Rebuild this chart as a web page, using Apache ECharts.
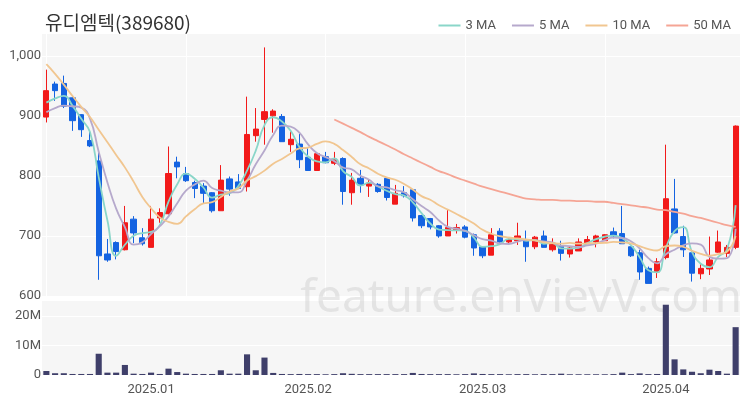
<!DOCTYPE html>
<html>
<head>
<meta charset="utf-8">
<script src="https://cdn.jsdelivr.net/npm/echarts@6/dist/echarts.min.js"></script>
<style>html,body{margin:0;padding:0;background:#fff}#c{width:750px;height:400px}</style>
</head>
<body>
<div id="c"></div>
<script>
const dates = [
'2024-12-12','2024-12-13','2024-12-16','2024-12-17','2024-12-18','2024-12-19','2024-12-20','2024-12-23','2024-12-24','2024-12-26','2024-12-27','2024-12-30',
'2025-01-02','2025-01-03','2025-01-06','2025-01-07','2025-01-08','2025-01-09','2025-01-10','2025-01-13','2025-01-14','2025-01-15','2025-01-16','2025-01-17','2025-01-20','2025-01-21','2025-01-22','2025-01-23','2025-01-24','2025-01-31',
'2025-02-03','2025-02-04','2025-02-05','2025-02-06','2025-02-07','2025-02-10','2025-02-11','2025-02-12','2025-02-13','2025-02-14','2025-02-17','2025-02-18','2025-02-19','2025-02-20','2025-02-21','2025-02-24','2025-02-25','2025-02-26','2025-02-27','2025-02-28',
'2025-03-03','2025-03-04','2025-03-05','2025-03-06','2025-03-07','2025-03-10','2025-03-11','2025-03-12','2025-03-13','2025-03-14','2025-03-17','2025-03-18','2025-03-19','2025-03-20','2025-03-21','2025-03-24','2025-03-25','2025-03-26','2025-03-27','2025-03-28','2025-03-31',
'2025-04-01','2025-04-02','2025-04-03','2025-04-04','2025-04-07','2025-04-08','2025-04-09','2025-04-10','2025-04-11'
];
const opens = [898,953,954,930,902,859,825,670,689,677,728,697,681,730,737,823,804,789,783,772,742,795,790,782,867,894,900,899,852,853,
831,809,832,821,829,772,796,783,786,796,753,772,777,734,729,717,700,710,715,702,
682,668,708,690,692,694,682,700,677,683,670,675,687,690,692,707,704,682,672,646,640,
664,745,699,672,637,645,673,671,681];
const closes = [942,942,916,892,877,850,667,660,674,722,705,687,728,739,804,815,792,779,771,742,793,778,779,869,878,907,908,857,861,827,
809,837,822,828,774,793,785,788,774,764,771,767,730,717,715,700,714,714,698,680,
667,702,690,694,700,682,698,681,686,671,680,690,694,700,702,700,687,667,640,621,657,
762,705,677,638,646,660,690,681,883];
const lows = [889,925,913,875,865,848,627,657,661,676,688,684,681,722,736,796,790,763,754,739,742,767,778,774,857,852,872,857,840,813,
809,809,821,818,752,752,772,765,772,759,753,764,724,713,711,697,700,704,696,667,
663,668,689,685,685,657,678,681,674,659,664,675,687,681,692,696,687,665,627,621,630,
661,704,665,624,628,635,672,665,678];
const highs = [977,957,967,932,903,875,840,695,691,750,733,713,750,746,849,832,815,792,788,773,818,799,803,932,913,1014,911,903,874,870,
846,839,840,840,831,805,810,794,788,798,785,783,778,735,730,718,743,720,718,704,
682,713,713,696,722,709,700,709,696,692,682,696,700,702,703,714,750,682,677,649,663,
852,795,717,672,653,699,709,685,884];
const volumes = [1.35,0.6,0.6,0.35,0.35,0.35,7.2,0.8,0.8,3.4,0.45,0.35,0.8,0.35,2.15,1.0,0.45,0.35,0.35,0.35,1.6,0.45,0.45,7.0,1.6,5.9,0.7,0.35,0.3,0.35,
0.3,0.3,0.25,0.3,0.6,0.4,0.3,0.3,0.3,0.3,0.3,0.3,0.7,0.35,0.3,0.3,0.3,0.25,0.3,0.55,
0.35,0.3,0.3,0.25,0.3,0.3,0.25,0.3,0.3,0.45,0.25,0.25,0.25,0.25,0.25,0.3,0.8,0.3,0.55,0.3,0.35,
23.8,5.3,1.9,1.1,0.6,1.8,1.35,0.45,16.2];
const ma3 = [922,929,933.3,916.7,895,873,798,725.7,667,685.3,700.3,704.7,706.7,718,757,786,803.7,795.3,780.7,764,768.7,771,783.3,808.7,842,884.7,897.7,890.7,875.3,848.3,
832.3,824.3,822.7,829,808,798.3,784,788.7,782.3,775.3,769.7,767.3,756,738,720.7,710.7,709.7,709.3,708.7,697.3,
681.7,683,686.3,695.3,694.7,692,693.3,687,688.3,679.3,679,680.3,688,694.7,698.7,700.7,696.3,684.7,664.7,642.7,639.3,
680,708,714.7,673.3,653.7,648,665.3,677,751.3];
const ma5 = [906,913,917,916,913.8,895.4,840.4,789.2,745.6,714.6,685.6,689.6,703.2,716.2,732.6,754.6,775.6,785.8,792.2,779.8,775.4,772.6,772.6,792.2,819.4,842.2,868.2,883.8,882.2,872,
852.4,838.2,831.2,824.6,814,810.8,800.4,793.6,782.8,780.8,776.4,772.8,761.2,749.8,740,725.8,715.2,712,708.2,701.2,
694.6,692.2,687.4,686.6,690.6,693.6,692.8,691,689.4,683.6,683.2,681.6,684.2,687,693.2,697.2,696.6,691.2,679.2,663,654.4,
669.4,677,684.4,687.8,685.6,665.2,662.2,663,712];
const ma10 = [986,970,952,933,915,898,877,856,835,814.2,790.5,765,746.2,730.9,723.6,720.1,732.6,744.5,754.2,756.2,765,774.1,779.2,792.2,799.6,808.8,820.4,828.2,837.2,845.7,
847.3,853.2,857.5,853.4,843,831.6,819.3,812.4,803.7,797.4,793.6,786.6,777.4,766.3,760.4,751.1,744,736.6,729,720.6,
710.2,703.7,699.7,697.4,695.9,694.1,692.5,689.2,688,687.1,688.4,687.2,687.6,688.2,688.4,690.2,689.1,687.7,683.1,678.1,675.8,
683,684.1,681.8,675.4,670,667.3,669.6,673.7,699.9];
const ma50 = [null,null,null,null,null,null,null,null,null,null,null,null,null,null,null,null,null,null,null,null,null,null,null,null,null,null,null,null,null,null,
null,null,null,894,887,880,873,865,858,851,844,836,829,822,815,808,803,797,792,787,
782,778,774,770,766,762,761,760,760,759,759,758,758,757,757,755,753,751,749,747,744,
743,740,737,733,730,726,722,718,715];
const yTicks = [600,700,800,900,1000];
const volTicks = [0,10000000,20000000];

const candleData = dates.map((d,i)=>[opens[i],closes[i],lows[i],highs[i]]);
const volData = volumes.map(v=>v*1e6);

const UP='#f21a1a', DOWN='#1463e1';
const C3='#8ad6c9', C5='#b6a9cc', C10='#f1c690', C50='#f5a595';

const chart = echarts.init(document.getElementById('c'), null, {renderer:'canvas'});
const monthStart = (i)=> i>0 && dates[i].slice(0,7)!==dates[i-1].slice(0,7);
const lineSeries = (name, data, color)=>({
  type:'line', name, data, xAxisIndex:0, yAxisIndex:0, smooth:true, symbol:'none',
  lineStyle:{width:1.8, color}, itemStyle:{color}, z:3
});
chart.setOption({
  animation:false,
  backgroundColor:'#fff',
  textStyle:{fontFamily:'Roboto, "Noto Sans", sans-serif'},
  title:{text:'유디엠텍(389680)', left:40, top:8,
    textStyle:{fontSize:19, fontWeight:'normal', color:'#333', fontFamily:'"Noto Sans CJK KR", sans-serif'}},
  legend:{right:14, top:14, icon:'rect', itemWidth:22, itemHeight:2, itemGap:16,
    textStyle:{fontSize:13, color:'#555'},
    data:['3 MA','5 MA','10 MA','50 MA']},
  graphic:[{type:'text', right:8, top:276, z:1, silent:true,
    style:{text:'feature.enVievV.com', fontSize:46, fontFamily:'"Noto Sans", sans-serif', fill:'rgba(200,200,200,0.42)'}}],
  grid:[
    {left:42, right:10, top:33, height:263, show:true, backgroundColor:'#f6f6f6', borderWidth:0},
    {left:42, right:10, top:300, height:75, show:true, backgroundColor:'#f6f6f6', borderWidth:0}
  ],
  xAxis:[
    {type:'category', gridIndex:0, data:dates, boundaryGap:true,
      axisLine:{show:false}, axisTick:{show:false}, axisLabel:{show:false},
      splitLine:{show:true, interval:(i)=>i%16===0, alignWithLabel:true, lineStyle:{color:'#ffffff', width:1}}},
    {type:'category', gridIndex:1, data:dates, boundaryGap:true,
      axisLine:{show:false}, axisTick:{show:false},
      axisLabel:{interval:(i)=>monthStart(i), formatter:(v)=>v.slice(0,7).replace('-','.'), color:'#555', fontSize:13, margin:8},
      splitLine:{show:false}}
  ],
  yAxis:[
    {type:'value', gridIndex:0, min:yTicks[0], max:1038, interval:100,
      axisLine:{show:false}, axisTick:{show:false},
      axisLabel:{formatter:(v)=>v.toLocaleString('en-US'), showMaxLabel:false, color:'#555', fontSize:13, margin:1},
      splitLine:{lineStyle:{color:'#ffffff', width:1}}},
    {type:'value', gridIndex:1, min:volTicks[0], max:25400000, interval:volTicks[1],
      axisLine:{show:false}, axisTick:{show:false},
      axisLabel:{formatter:(v)=> v===0?'0':(v/1e6)+'M', showMaxLabel:false, color:'#555', fontSize:13, margin:1},
      splitLine:{lineStyle:{color:'#ffffff', width:1}}}
  ],
  series:[
    {type:'candlestick', name:'price', xAxisIndex:0, yAxisIndex:0, data:candleData, barWidth:'66%',
      itemStyle:{color:UP, color0:DOWN, borderColor:UP, borderColor0:DOWN, borderWidth:1}},
    lineSeries('3 MA', ma3, C3),
    lineSeries('5 MA', ma5, C5),
    lineSeries('10 MA', ma10, C10),
    lineSeries('50 MA', ma50, C50),
    {type:'bar', name:'volume', xAxisIndex:1, yAxisIndex:1, data:volData, barWidth:'70%',
      itemStyle:{color:'#3f3f6a'}}
  ]
});
</script>
</body>
</html>
